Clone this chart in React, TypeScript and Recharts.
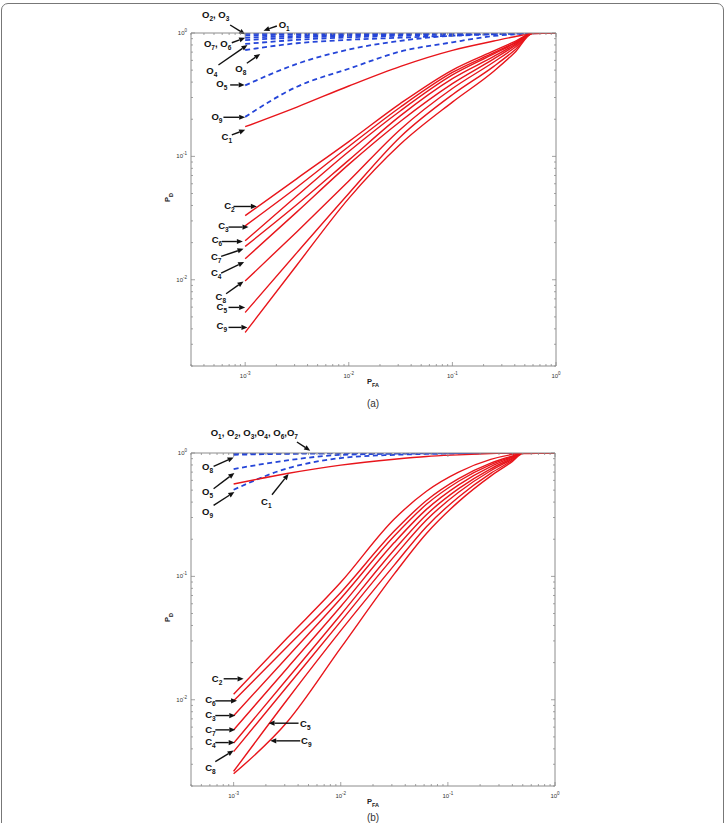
import React from 'react';
import { LineChart, Line, XAxis, YAxis, ReferenceLine, ReferenceDot } from 'recharts';

const FONT = '"Liberation Sans", Arial, Helvetica, sans-serif';
const RED = '#e8151b';
const BLUE = '#2545d8';
const AXIS = '#8c8c8c';

// ---------- Panel (a) ----------
const PFA_A = [0.001, 0.00316, 0.01, 0.0316, 0.1, 0.251, 0.398, 0.603, 1];
const A_O1 = [0.997, 0.998, 0.999, 0.999, 1, 1, 1, 1, 1];
const A_O2 = [0.982, 0.988, 0.992, 0.995, 0.997, 0.999, 1, 1, 1];
const A_O3 = [0.955, 0.971, 0.981, 0.988, 0.994, 0.997, 0.999, 1, 1];
const A_O7 = [0.915, 0.945, 0.964, 0.977, 0.988, 0.995, 0.997, 0.999, 1];
const A_O6 = [0.875, 0.919, 0.948, 0.966, 0.982, 0.992, 0.996, 0.999, 1];
const A_O4 = [0.815, 0.88, 0.922, 0.95, 0.974, 0.989, 0.994, 0.998, 1];
const A_O8 = [0.728, 0.826, 0.881, 0.916, 0.951, 0.975, 0.986, 0.995, 1];
const A_O5 = [0.376, 0.562, 0.734, 0.865, 0.951, 0.982, 0.994, 1, 1];
const A_O9 = [0.209, 0.367, 0.513, 0.708, 0.841, 0.946, 0.977, 1, 1];
const A_C1 = [0.174, 0.251, 0.372, 0.537, 0.724, 0.861, 0.933, 0.989, 1];
const A_C2 = [0.0331, 0.0661, 0.1318, 0.2692, 0.5012, 0.716, 0.851, 1, 1];
const A_C3 = [0.02735, 0.0562, 0.1202, 0.2512, 0.4786, 0.6918, 0.8318, 1, 1];
const A_C6 = [0.0207, 0.0479, 0.1096, 0.2344, 0.4571, 0.6761, 0.8222, 1, 1];
const A_C7 = [0.01862, 0.0407, 0.0933, 0.2138, 0.4266, 0.6457, 0.8035, 1, 1];
const A_C4 = [0.01479, 0.0355, 0.0861, 0.1928, 0.389, 0.6166, 0.7852, 1, 1];
const A_C8 = [0.00977, 0.02455, 0.0631, 0.166, 0.3548, 0.582, 0.7586, 1, 1];
const A_C5 = [0.00543, 0.0166, 0.0501, 0.1445, 0.3162, 0.537, 0.7244, 1, 1];
const A_C9 = [0.00374, 0.01318, 0.0457, 0.1259, 0.2754, 0.4898, 0.6918, 1, 1];

// ---------- Panel (b) ----------
const PFA_B = [0.001, 0.00316, 0.01, 0.0316, 0.0631, 0.126, 0.251, 0.398, 0.501, 1];
const B_O1 = [1, 1, 1, 1, 1, 1, 1, 1, 1, 1];
const B_O2 = [0.998, 0.999, 1, 1, 1, 1, 1, 1, 1, 1];
const B_O3 = [0.996, 0.998, 0.999, 1, 1, 1, 1, 1, 1, 1];
const B_O4 = [0.994, 0.997, 0.999, 1, 1, 1, 1, 1, 1, 1];
const B_O6 = [0.992, 0.996, 0.998, 0.999, 1, 1, 1, 1, 1, 1];
const B_O7 = [0.99, 0.995, 0.998, 0.999, 1, 1, 1, 1, 1, 1];
const B_O8 = [0.968, 0.985, 0.993, 0.997, 0.999, 1, 1, 1, 1, 1];
const B_O5 = [0.741, 0.871, 0.966, 0.986, 0.993, 0.997, 1, 1, 1, 1];
const B_O9 = [0.504, 0.75, 0.91, 0.966, 0.982, 0.991, 0.998, 1, 1, 1];
const B_C1 = [0.561, 0.682, 0.798, 0.891, 0.938, 0.966, 0.989, 1, 1, 1];
const B_C2 = [0.01109, 0.03162, 0.0895, 0.2917, 0.4898, 0.6998, 0.8872, 0.9727, 1, 1];
const B_C6 = [0.0098, 0.02692, 0.0741, 0.2328, 0.4121, 0.6194, 0.8279, 0.9441, 1, 1];
const B_C3 = [0.00741, 0.02213, 0.0661, 0.2123, 0.3837, 0.5902, 0.8054, 0.9333, 1, 1];
const B_C7 = [0.0057, 0.01803, 0.057, 0.1879, 0.3491, 0.5521, 0.7762, 0.9204, 1, 1];
const B_C4 = [0.00445, 0.01472, 0.0488, 0.1644, 0.3162, 0.514, 0.7447, 0.9057, 1, 1];
const B_C8 = [0.0038, 0.0128, 0.0432, 0.1452, 0.2864, 0.4808, 0.7178, 0.8913, 1, 1];
const B_C5 = [0.00263, 0.01, 0.0363, 0.1233, 0.2529, 0.4406, 0.6839, 0.871, 1, 1];
const B_C9 = [0.00251, 0.0066, 0.0263, 0.1047, 0.2228, 0.4036, 0.6501, 0.8511, 0.989, 1];

// ---------- Annotations (log10 coordinates of label and arrow tail/tip) ----------
type Ann = { label: string; tx: number; ty: number; ax: number; ay: number; bx: number; by: number };
const ANN_A: Ann[] = [
  { label: 'O_{2}, O_{3}', tx: -3.285, ty: 0.146, ax: -3.145, ay: 0.065, bx: -3.0, by: -0.011 },
  { label: 'O_{1}', tx: -2.623, ty: 0.065, ax: -2.694, ay: 0.057, bx: -2.823, by: 0.019 },
  { label: 'O_{7}, O_{6}', tx: -3.266, ty: -0.083, ax: -3.129, ay: -0.079, bx: -3.0, by: -0.038 },
  { label: 'O_{4}', tx: -3.322, ty: -0.305, ax: -3.258, ay: -0.259, bx: -2.978, by: -0.097 },
  { label: 'O_{8}', tx: -3.042, ty: -0.291, ax: -2.984, ay: -0.245, bx: -2.855, by: -0.17 },
  { label: 'O_{5}', tx: -3.225, ty: -0.413, ax: -3.145, ay: -0.421, bx: -3.005, by: -0.421 },
  { label: 'O_{9}', tx: -3.273, ty: -0.678, ax: -3.21, ay: -0.683, bx: -3.0, by: -0.683 },
  { label: 'C_{1}', tx: -3.177, ty: -0.84, ax: -3.129, ay: -0.826, bx: -3.0, by: -0.785 },
  { label: 'C_{2}', tx: -3.152, ty: -1.398, ax: -3.113, ay: -1.406, bx: -2.887, by: -1.406 },
  { label: 'C_{3}', tx: -3.21, ty: -1.563, ax: -3.161, ay: -1.573, bx: -2.968, by: -1.573 },
  { label: 'C_{6}', tx: -3.273, ty: -1.676, ax: -3.225, ay: -1.69, bx: -3.022, by: -1.69 },
  { label: 'C_{7}', tx: -3.28, ty: -1.816, ax: -3.232, ay: -1.811, bx: -3.016, by: -1.749 },
  { label: 'C_{4}', tx: -3.28, ty: -1.941, ax: -3.232, ay: -1.946, bx: -3.01, by: -1.857 },
  { label: 'C_{8}', tx: -3.235, ty: -2.135, ax: -3.184, ay: -2.113, bx: -3.016, by: -2.014 },
  { label: 'C_{5}', tx: -3.225, ty: -2.216, ax: -3.161, ay: -2.224, bx: -3.0, by: -2.224 },
  { label: 'C_{9}', tx: -3.225, ty: -2.372, ax: -3.161, ay: -2.386, bx: -2.978, by: -2.386 },
];
const ANN_B: Ann[] = [
  { label: 'O_{1}, O_{2}, O_{3},O_{4}, O_{6},O_{7}', tx: -2.807, ty: 0.162, ax: -2.409, ay: 0.089, bx: -2.285, by: 0.019 },
  { label: 'O_{8}', tx: -3.243, ty: -0.109, ax: -3.187, ay: -0.109, bx: -3.0, by: -0.036 },
  { label: 'O_{5}', tx: -3.243, ty: -0.311, ax: -3.187, ay: -0.29, bx: -2.993, by: -0.162 },
  { label: 'O_{9}', tx: -3.243, ty: -0.476, ax: -3.187, ay: -0.425, bx: -2.993, by: -0.316 },
  { label: 'C_{1}', tx: -2.695, ty: -0.393, ax: -2.642, ay: -0.338, bx: -2.487, by: -0.17 },
  { label: 'C_{2}', tx: -3.155, ty: -1.825, ax: -3.093, ay: -1.83, bx: -2.907, by: -1.83 },
  { label: 'C_{6}', tx: -3.217, ty: -2.0, ax: -3.171, ay: -2.009, bx: -2.968, by: -2.009 },
  { label: 'C_{3}', tx: -3.217, ty: -2.118, ax: -3.171, ay: -2.128, bx: -2.984, by: -2.128 },
  { label: 'C_{7}', tx: -3.217, ty: -2.238, ax: -3.171, ay: -2.244, bx: -2.984, by: -2.244 },
  { label: 'C_{4}', tx: -3.217, ty: -2.339, ax: -3.171, ay: -2.347, bx: -2.99, by: -2.347 },
  { label: 'C_{8}', tx: -3.217, ty: -2.547, ax: -3.171, ay: -2.501, bx: -3.0, by: -2.412 },
  { label: 'C_{5}', tx: -2.331, ty: -2.19, ax: -2.394, ay: -2.19, bx: -2.674, by: -2.19 },
  { label: 'C_{9}', tx: -2.322, ty: -2.333, ax: -2.378, ay: -2.333, bx: -2.658, by: -2.333 },
];

type Series = { key: string; values: number[]; dashed: boolean };
const SERIES_A: Series[] = [
  { key: 'O1', values: A_O1, dashed: true }, { key: 'O2', values: A_O2, dashed: true },
  { key: 'O3', values: A_O3, dashed: true }, { key: 'O7', values: A_O7, dashed: true },
  { key: 'O6', values: A_O6, dashed: true }, { key: 'O4', values: A_O4, dashed: true },
  { key: 'O8', values: A_O8, dashed: true }, { key: 'O5', values: A_O5, dashed: true },
  { key: 'O9', values: A_O9, dashed: true },
  { key: 'C1', values: A_C1, dashed: false }, { key: 'C2', values: A_C2, dashed: false },
  { key: 'C3', values: A_C3, dashed: false }, { key: 'C6', values: A_C6, dashed: false },
  { key: 'C7', values: A_C7, dashed: false }, { key: 'C4', values: A_C4, dashed: false },
  { key: 'C8', values: A_C8, dashed: false }, { key: 'C5', values: A_C5, dashed: false },
  { key: 'C9', values: A_C9, dashed: false },
];
const SERIES_B: Series[] = [
  { key: 'O1', values: B_O1, dashed: true }, { key: 'O2', values: B_O2, dashed: true },
  { key: 'O3', values: B_O3, dashed: true }, { key: 'O4', values: B_O4, dashed: true },
  { key: 'O6', values: B_O6, dashed: true }, { key: 'O7', values: B_O7, dashed: true },
  { key: 'O8', values: B_O8, dashed: true }, { key: 'O5', values: B_O5, dashed: true },
  { key: 'O9', values: B_O9, dashed: true },
  { key: 'C1', values: B_C1, dashed: false }, { key: 'C2', values: B_C2, dashed: false },
  { key: 'C6', values: B_C6, dashed: false }, { key: 'C3', values: B_C3, dashed: false },
  { key: 'C7', values: B_C7, dashed: false }, { key: 'C4', values: B_C4, dashed: false },
  { key: 'C8', values: B_C8, dashed: false }, { key: 'C5', values: B_C5, dashed: false },
  { key: 'C9', values: B_C9, dashed: false },
];

const buildRows = (pfa: number[], series: Series[]) =>
  pfa.map((x, i) => {
    const row: Record<string, number> = { x };
    series.forEach((s) => { row[s.key] = s.values[i]; });
    return row;
  });

const logTicks = (lo: number, hi: number) => {
  const out: number[] = [];
  for (let e = Math.floor(Math.log10(lo)); e <= Math.ceil(Math.log10(hi)); e++) {
    for (let k = 1; k < 10; k++) {
      const v = +(k * Math.pow(10, e)).toPrecision(6);
      if (v >= lo * 0.9999 && v <= hi * 1.0001) out.push(v);
    }
  }
  return out;
};

const isMajor = (v: number) => {
  const lg = Math.log10(v);
  return Math.abs(lg - Math.round(lg)) < 1e-6;
};

const makeTick = (side: 'bottom' | 'top' | 'left' | 'right', labels: boolean) => (p: any) => {
  const { x, y, payload } = p;
  const v = payload.value;
  const major = isMajor(v);
  const len = major ? 4 : 2;
  let ln;
  if (side === 'bottom') ln = <line x1={x} x2={x} y1={y} y2={y - len} stroke={AXIS} strokeWidth={0.8} />;
  else if (side === 'top') ln = <line x1={x} x2={x} y1={y} y2={y + len} stroke={AXIS} strokeWidth={0.8} />;
  else if (side === 'left') ln = <line x1={x} x2={x + len} y1={y} y2={y} stroke={AXIS} strokeWidth={0.8} />;
  else ln = <line x1={x} x2={x - len} y1={y} y2={y} stroke={AXIS} strokeWidth={0.8} />;
  let label = null;
  if (labels && major) {
    const ex = String(Math.round(Math.log10(v)));
    if (side === 'bottom') {
      label = (
        <text x={x} y={y + 12} textAnchor="middle" fontSize={6} fontFamily={FONT} fill="#333">
          10<tspan fontSize={4.5} dy={-3}>{ex}</tspan>
        </text>
      );
    } else if (side === 'left') {
      label = (
        <text x={x - 4} y={y + 2} textAnchor="end" fontSize={6} fontFamily={FONT} fill="#333">
          10<tspan fontSize={4.5} dy={-3}>{ex}</tspan>
        </text>
      );
    }
  }
  return <g>{ln}{label}</g>;
};

const renderRich = (label: string, subSize: number) => {
  const parts = label.split(/(_\{[^}]*\})/).filter((s) => s.length > 0);
  const out: React.ReactNode[] = [];
  let lowered = false;
  parts.forEach((part, i) => {
    if (part.startsWith('_{')) {
      out.push(<tspan key={i} fontSize={subSize} dy={lowered ? 0 : 3}>{part.slice(2, -1)}</tspan>);
      lowered = true;
    } else {
      out.push(<tspan key={i} dy={lowered ? -3 : 0}>{part}</tspan>);
      lowered = false;
    }
  });
  return out;
};

const Arrow = (p: any) => {
  const { x1, y1, x2, y2 } = p;
  const dx = x2 - x1;
  const dy = y2 - y1;
  const L = Math.hypot(dx, dy) || 1;
  const ux = dx / L;
  const uy = dy / L;
  const h = 6;
  const w = 2.6;
  const bx = x2 - ux * h;
  const by = y2 - uy * h;
  return (
    <g>
      <line x1={x1} y1={y1} x2={bx} y2={by} stroke="#111" strokeWidth={1.4} />
      <polygon points={`${x2},${y2} ${bx - uy * w},${by + ux * w} ${bx + uy * w},${by - ux * w}`} fill="#111" />
    </g>
  );
};

const makeLabelShape = (label: string) => (p: any) => (
  <text x={p.cx} y={p.cy + 3.4} textAnchor="middle" fontSize={9.5} fontWeight="bold" fontFamily={FONT} fill="#111">
    {renderRich(label, 6.5)}
  </text>
);

type PanelProps = {
  pfa: number[];
  series: Series[];
  ann: Ann[];
  xDomain: [number, number];
  height: number;
  margin: { top: number; right: number; bottom: number; left: number };
};

const Panel = ({ pfa, series, ann, xDomain, height, margin }: PanelProps) => {
  const rows = buildRows(pfa, series);
  const yDomain: [number, number] = [0.002, 1];
  const xt = logTicks(xDomain[0], xDomain[1]);
  const yt = logTicks(yDomain[0], yDomain[1]);
  const p10 = (v: number) => Math.pow(10, v);
  return (
    <LineChart width={726} height={height} data={rows} margin={margin}>
      <XAxis xAxisId="b" dataKey="x" type="number" scale="log" domain={xDomain} allowDataOverflow
        ticks={xt} interval={0} height={1} tickSize={0} tickMargin={0} tickLine={false}
        axisLine={{ stroke: AXIS, strokeWidth: 1 }} tick={makeTick('bottom', true)} />
      <XAxis xAxisId="t" orientation="top" dataKey="x" type="number" scale="log" domain={xDomain} allowDataOverflow
        ticks={xt} interval={0} height={1} tickSize={0} tickMargin={0} tickLine={false}
        axisLine={{ stroke: AXIS, strokeWidth: 1 }} tick={makeTick('top', false)} />
      <YAxis yAxisId="l" type="number" scale="log" domain={yDomain} allowDataOverflow
        ticks={yt} interval={0} width={1} tickSize={0} tickMargin={0} tickLine={false}
        axisLine={{ stroke: AXIS, strokeWidth: 1 }} tick={makeTick('left', true)} />
      <YAxis yAxisId="r" orientation="right" type="number" scale="log" domain={yDomain} allowDataOverflow
        ticks={yt} interval={0} width={1} tickSize={0} tickMargin={0} tickLine={false}
        axisLine={{ stroke: AXIS, strokeWidth: 1 }} tick={makeTick('right', false)} />
      {series.map((s) => (
        <Line key={s.key} xAxisId="b" yAxisId="l" dataKey={s.key} type="monotone"
          stroke={s.dashed ? BLUE : RED} strokeWidth={s.dashed ? 1.8 : 1.4}
          strokeDasharray={s.dashed ? '5 3.5' : undefined}
          dot={false} activeDot={false} isAnimationActive={false} />
      ))}
      {ann.map((a, i) => (
        <ReferenceLine key={'l' + i} xAxisId="b" yAxisId="l" ifOverflow="visible"
          segment={[{ x: p10(a.ax), y: p10(a.ay) }, { x: p10(a.bx), y: p10(a.by) }]} shape={Arrow} />
      ))}
      {ann.map((a, i) => (
        <ReferenceDot key={'d' + i} xAxisId="b" yAxisId="l" ifOverflow="visible"
          x={p10(a.tx)} y={p10(a.ty)} r={0} shape={makeLabelShape(a.label)} />
      ))}
    </LineChart>
  );
};

const AxisTitles = ({ plotTop, plotBottom, cap, capY }: { plotTop: number; plotBottom: number; cap: string; capY: number }) => {
  const midY = (plotTop + plotBottom) / 2 - 2;
  return (
    <g fontFamily={FONT} fill="#222">
      <text x={0} y={0} transform={`translate(170, ${midY}) rotate(-90)`} textAnchor="middle" fontSize={7.5} fontWeight="bold">
        P<tspan fontSize={5.5} dy={2.5}>D</tspan>
      </text>
      <text x={373} y={plotBottom + 18} textAnchor="middle" fontSize={7.5} fontWeight="bold">
        P<tspan fontSize={5.5} dy={2.5}>FA</tspan>
      </text>
      <text x={373} y={capY} textAnchor="middle" fontSize={10} fill="#333">{cap}</text>
    </g>
  );
};

export default function App() {
  return (
    <div style={{ position: 'absolute', left: 0, top: 0, width: 726, height: 823, overflow: 'hidden', background: '#fff' }}>
      <div style={{ position: 'absolute', left: 1, top: 3, width: 721, height: 840, border: '1px solid #777', borderRadius: 7 }} />
      <div style={{ position: 'absolute', left: 0, top: 0 }}>
        <Panel pfa={PFA_A} series={SERIES_A} ann={ANN_A} xDomain={[0.0003, 1]} height={410}
          margin={{ top: 32, right: 169, bottom: 43, left: 190 }} />
      </div>
      <div style={{ position: 'absolute', left: 0, top: 410 }}>
        <Panel pfa={PFA_B} series={SERIES_B} ann={ANN_B} xDomain={[0.0004, 1]} height={413}
          margin={{ top: 42, right: 170, bottom: 36, left: 190 }} />
      </div>
      <svg width={726} height={823} style={{ position: 'absolute', left: 0, top: 0, pointerEvents: 'none' }}>
        <AxisTitles plotTop={33} plotBottom={366} cap="(a)" capY={407} />
        <AxisTitles plotTop={453} plotBottom={786} cap="(b)" capY={821} />
      </svg>
    </div>
  );
}
